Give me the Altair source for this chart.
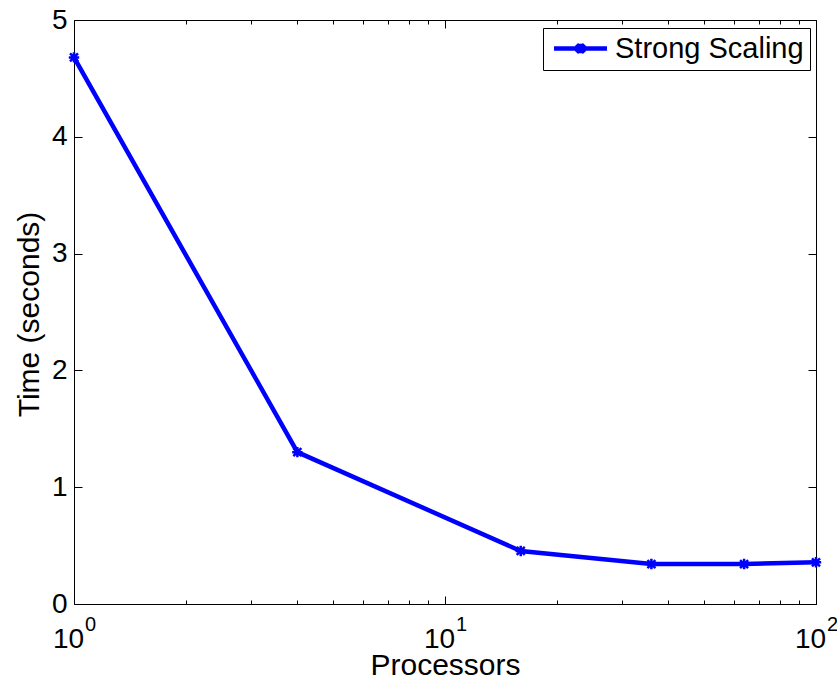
import altair as alt
import pandas as pd

# Runtime (seconds) for a fixed-size problem as the processor count grows
processors = [1, 4, 16, 36, 64, 100]
seconds = [4.68, 1.30, 0.454, 0.342, 0.342, 0.357]
series = ["Strong Scaling"] * len(processors)

# Tick positions for the MATLAB-style boxed axes
major_x = [1, 10, 100]
minor_x = [2, 3, 4, 5, 6, 7, 8, 9, 20, 30, 40, 50, 60, 70, 80, 90]
y_ticks = [0, 1, 2, 3, 4, 5]

df = pd.DataFrame({"Processors": processors, "Time": seconds, "Series": series})

FONT = "Liberation Sans"
BLUE = "#0000ff"
W, H = 742, 584

x_scale = alt.Scale(type="log", domain=[1, 100], nice=False)
y_scale = alt.Scale(domain=[0, 5], nice=False, zero=False)

# asterisk marker and a legend sample (line with the marker in the middle)
ASTERISK = "M-1,-1L1,1M-1,1L1,-1M0,-1.3L0,1.3M-1.3,0L1.3,0"
LEGEND_SAMPLE = "M-3,0L3,0M-0.45,-0.45L0.45,0.45M-0.45,0.45L0.45,-0.45M0,-0.55L0,0.55"


def axis(**kw):
    opts = dict(grid=False, domain=False, tickColor="black", tickWidth=1,
                labelColor="black", labelFont=FONT, labelFlush=False,
                labelOverlap=False, titleFont=FONT, titleColor="black",
                titleFontWeight="normal")
    opts.update(kw)
    return alt.Axis(**opts)


base = alt.Chart(df)

# Line with major bottom ticks, "10" labels, left ticks/labels and both titles
line = base.mark_line(strokeWidth=4.5).encode(
    x=alt.X("Processors:Q", scale=x_scale, title="Processors",
            axis=axis(orient="bottom", values=major_x, offset=-8, tickSize=8,
                      labelExpr="'10'", labelFontSize=28, labelBaseline="alphabetic",
                      labelAlign="center", labelPadding=43, labelOffset=-6,
                      titleFontSize=30, titleX=W / 2, titleY=78,
                      titleBaseline="alphabetic", titleAlign="center")),
    y=alt.Y("Time:Q", scale=y_scale, title="Time (seconds)",
            axis=axis(orient="left", values=y_ticks, offset=-8, tickSize=8,
                      format="d", labelFontSize=28, labelPadding=7,
                      labelAlign="right", labelBaseline="middle",
                      titleFontSize=30, titleAngle=270, titleX=-43.5, titleY=294,
                      titleBaseline="alphabetic", titleAlign="center")),
    color=alt.Color("Series:N", title=None,
                    scale=alt.Scale(domain=["Strong Scaling"], range=[BLUE]),
                    legend=alt.Legend(orient="none", legendX=469, legendY=8,
                                      fillColor="white", strokeColor="black",
                                      padding=6, symbolType=LEGEND_SAMPLE,
                                      symbolSize=312, symbolStrokeWidth=4.5,
                                      symbolOffset=17, labelOffset=20,
                                      labelFont=FONT, labelFontSize=29,
                                      labelColor="black", labelLimit=400)),
)

# Markers, exponent labels on the bottom axis, inward ticks on the right
points = base.mark_point(shape=ASTERISK, size=64, strokeWidth=2.5, filled=False,
                         color=BLUE, opacity=1).encode(
    x=alt.X("Processors:Q", scale=x_scale, title=None,
            axis=axis(orient="bottom", values=major_x, ticks=False, tickSize=0,
                      labelExpr="'' + round(log(datum.value) / LN10)",
                      labelFontSize=20, labelBaseline="alphabetic",
                      labelAlign="center", labelPadding=26, labelOffset=16)),
    y=alt.Y("Time:Q", scale=y_scale, title=None,
            axis=axis(orient="right", values=y_ticks, offset=-8, tickSize=8,
                      labels=False)),
)


def tick_layer(orient, values, size):
    return base.mark_line(opacity=0).encode(
        x=alt.X("Processors:Q", scale=x_scale, title=None,
                axis=axis(orient=orient, values=values, offset=-size,
                          tickSize=size, labels=False)),
        y=alt.Y("Time:Q", scale=y_scale, axis=None),
    )


chart = alt.layer(
    tick_layer("bottom", minor_x, 4),
    tick_layer("top", major_x, 8),
    tick_layer("top", minor_x, 4),
    line,
    points,
).resolve_axis(
    x="independent", y="independent"
).properties(
    width=W, height=H,
    autosize=alt.AutoSizeParams(type="none"),
    padding={"left": 74, "top": 20, "right": 21, "bottom": 79},
    background="white",
).configure_view(
    stroke="black", strokeWidth=1
)

chart.save("out.html", embed_options={"renderer": "svg", "actions": False})
